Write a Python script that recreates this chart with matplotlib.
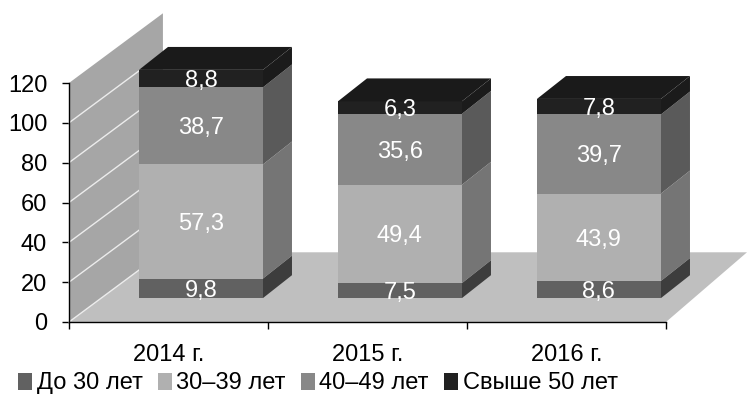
# -*- coding: utf-8 -*-
import numpy as np
import matplotlib
matplotlib.use('Agg')
import matplotlib.pyplot as plt

plt.rcParams['font.family'] = ['Liberation Sans', 'DejaVu Sans']

years = ['2014 г.', '2015 г.', '2016 г.']
groups = ['До 30 лет', '30–39 лет', '40–49 лет', 'Свыше 50 лет']
under_30 = [9.8, 7.5, 8.6]
age_30_39 = [57.3, 49.4, 43.9]
age_40_49 = [38.7, 35.6, 39.7]
over_50 = [8.8, 6.3, 7.8]
y_ticks = [0, 20, 40, 60, 80, 100, 120]

front_colors = ['#616161', '#b0b0b0', '#888888', '#212121']
side_colors = ['#3d3d3d', '#757575', '#5a5a5a', '#1b1b1b']
top_color = '#1a1a1a'

# pseudo-3D offsets, x in categories and y in axis units
wall_dx, wall_dy = 0.472, 35
floor_dx = 0.407
bar_dx, bar_dy = 0.146, 11.5
bar_width = 0.623
bar_shift = 0.163
bar_base = 12
fs = 17

fig = plt.figure(figsize=(7.47, 3.94), dpi=100)
ax = fig.add_axes([69 / 747, 1 - 322 / 394, 597 / 747, 239 / 394])
ax.set_xlim(0, 3)
ax.set_ylim(0, 120)

# back wall and floor
ax.fill([0, wall_dx, wall_dx, 0], [120, 120 + wall_dy, wall_dy, 0],
        color='#a6a6a6', lw=0, zorder=1, clip_on=False)
ax.fill([0, 3, 3 + floor_dx, wall_dx], [0, 0, wall_dy, wall_dy],
        color='#bfbfbf', lw=0, zorder=1, clip_on=False)
for t in y_ticks[:-1]:
    ax.plot([0, wall_dx], [t, t + wall_dy], color='#ececec', lw=1, zorder=2, clip_on=False)

# stacked bars: front faces come from ax.bar, side and top faces are added on
x = np.arange(len(years)) + 0.5 + bar_shift
series = [under_30, age_30_39, age_40_49, over_50]
bottom = np.full(len(years), float(bar_base))
handles = []
for vals, fc, sc, name in zip(series, front_colors, side_colors, groups):
    vals = np.array(vals)
    bars = ax.bar(x, vals, bar_width, bottom=bottom, color=fc, lw=0, zorder=4,
                  label=name, clip_on=False)
    handles.append(bars)
    for xi, b, v in zip(x, bottom, vals):
        r = xi + bar_width / 2
        ax.fill([r, r + bar_dx, r + bar_dx, r],
                [b, b + bar_dy, b + v + bar_dy, b + v],
                color=sc, lw=0, zorder=3, clip_on=False)
        label = f'{v:.1f}'.replace('.', ',')
        ax.text(xi, b + v / 2 - 1.2, label, color='white', fontsize=fs,
                ha='center', va='center', zorder=6)
    bottom = bottom + vals

for xi, top in zip(x, bottom):
    l, r = xi - bar_width / 2, xi + bar_width / 2
    ax.fill([l, r, r + bar_dx, l + bar_dx], [top, top, top + bar_dy, top + bar_dy],
            color=top_color, lw=0, zorder=5, clip_on=False)

# axes
for s in ['top', 'right']:
    ax.spines[s].set_visible(False)
for s in ['left', 'bottom']:
    ax.spines[s].set_linewidth(1)
    ax.spines[s].set_zorder(7)
ax.set_yticks(y_ticks)
ax.set_xticks(range(4))
ax.set_xticklabels([])
ax.set_xticks(np.arange(len(years)) + 0.5, years, minor=True)
ax.tick_params(axis='y', length=5, width=1, labelsize=fs, pad=10.7)
ax.tick_params(axis='x', which='major', length=5, width=1)
ax.tick_params(axis='x', which='minor', length=0, labelsize=fs, pad=16)

fig.legend(handles=handles, loc='lower left', bbox_to_anchor=(0.018, -0.013), ncol=4,
           frameon=False, fontsize=fs, handlelength=0.58, handleheight=0.75,
           handletextpad=0.2, columnspacing=0.65, borderpad=0.2, borderaxespad=0)

fig.savefig('out.png', dpi=100)
